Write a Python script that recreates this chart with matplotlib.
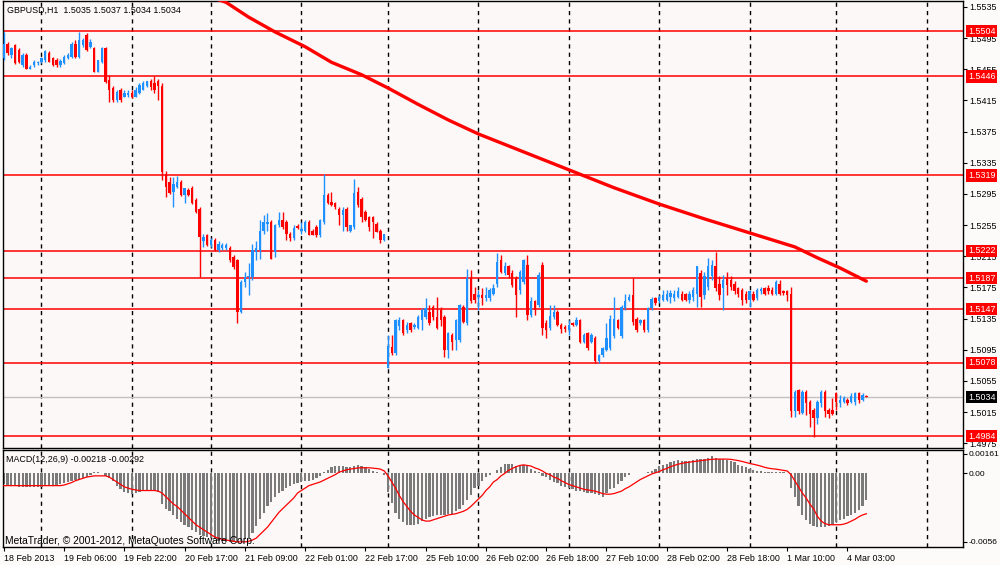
import numpy as np
import matplotlib
matplotlib.use("Agg")
import matplotlib.pyplot as plt
import matplotlib.transforms as mtransforms

plt.rcParams['font.family'] = ['Liberation Sans', 'DejaVu Sans']

# GBPUSD H1 candles, prices in 0.0001 above 1.0000 (5469 -> 1.5469)
opens = [5469, 5488, 5473, 5486, 5480, 5461, 5473, 5456, 5461, 5463,
         5465, 5467, 5476, 5469, 5467, 5461, 5463, 5469, 5471, 5488,
         5471, 5486, 5499, 5484, 5482, 5452, 5464, 5482, 5441, 5431,
         5416, 5428, 5420, 5422, 5425, 5420, 5424, 5428, 5433, 5440,
         5437, 5440, 5433, 5321, 5310, 5298, 5304, 5310, 5293, 5300,
         5302, 5287, 5276, 5234, 5242, 5229, 5236, 5223, 5225, 5225,
         5225, 5214, 5210, 5144, 5182, 5188, 5188, 5221, 5223, 5248,
         5257, 5259, 5221, 5255, 5261, 5259, 5244, 5238, 5254, 5248,
         5248, 5259, 5248, 5253, 5242, 5259, 5293, 5285, 5283, 5276,
         5268, 5276, 5248, 5253, 5298, 5289, 5272, 5265, 5265, 5257,
         5248, 5236, 5072, 5098, 5091, 5125, 5133, 5120, 5129, 5124,
         5123, 5133, 5137, 5144, 5150, 5137, 5146, 5137, 5095, 5114,
         5108, 5108, 5150, 5129, 5187, 5167, 5163, 5165, 5161, 5161,
         5167, 5180, 5210, 5193, 5202, 5193, 5187, 5172, 5182, 5204,
         5140, 5157, 5152, 5204, 5129, 5123, 5137, 5144, 5127, 5124,
         5120, 5129, 5127, 5133, 5105, 5116, 5105, 5110, 5080, 5088,
         5095, 5097, 5112, 5133, 5112, 5148, 5159, 5165, 5135, 5129,
         5133, 5120, 5148, 5161, 5158, 5159, 5159, 5163, 5161, 5163,
         5167, 5166, 5159, 5163, 5167, 5193, 5165, 5176, 5189, 5202,
         5180, 5174, 5187, 5185, 5180, 5174, 5172, 5167, 5159, 5167,
         5161, 5170, 5174, 5174, 5172, 5167, 5180, 5170, 5170, 5167,
         5016, 5043, 5014, 5041, 5028, 5018, 5007, 5026, 5041, 5018,
         5018, 5039, 5026, 5028, 5030, 5028, 5028, 5039, 5031, 5035]
highs = [5503, 5490, 5484, 5488, 5482, 5476, 5476, 5461, 5467, 5466,
         5471, 5480, 5478, 5471, 5469, 5468, 5473, 5476, 5490, 5493,
         5503, 5495, 5501, 5494, 5484, 5467, 5484, 5484, 5448, 5433,
         5429, 5431, 5428, 5429, 5428, 5432, 5437, 5440, 5440, 5442,
         5446, 5442, 5437, 5324, 5317, 5317, 5318, 5313, 5296, 5303,
         5305, 5290, 5278, 5244, 5244, 5238, 5238, 5235, 5232, 5232,
         5228, 5216, 5212, 5184, 5195, 5206, 5231, 5234, 5261, 5268,
         5270, 5262, 5257, 5272, 5272, 5261, 5246, 5255, 5256, 5259,
         5262, 5261, 5250, 5255, 5263, 5320, 5296, 5298, 5285, 5278,
         5278, 5278, 5255, 5314, 5304, 5291, 5274, 5267, 5267, 5259,
         5250, 5244, 5114, 5114, 5135, 5137, 5135, 5131, 5131, 5129,
         5140, 5148, 5161, 5153, 5153, 5163, 5150, 5140, 5118, 5116,
         5135, 5154, 5152, 5199, 5197, 5176, 5172, 5174, 5176, 5174,
         5180, 5219, 5217, 5208, 5204, 5197, 5189, 5197, 5212, 5217,
         5163, 5159, 5195, 5208, 5133, 5152, 5152, 5146, 5129, 5127,
         5133, 5131, 5137, 5135, 5116, 5118, 5116, 5112, 5090, 5099,
         5129, 5140, 5163, 5135, 5152, 5167, 5167, 5187, 5137, 5135,
         5135, 5150, 5163, 5163, 5165, 5172, 5172, 5172, 5172, 5176,
         5170, 5168, 5170, 5176, 5202, 5197, 5195, 5213, 5210, 5221,
         5189, 5191, 5195, 5189, 5183, 5176, 5174, 5170, 5172, 5170,
         5174, 5176, 5176, 5178, 5176, 5185, 5185, 5172, 5172, 5176,
         5043, 5045, 5043, 5043, 5030, 5020, 5030, 5043, 5043, 5020,
         5033, 5041, 5037, 5035, 5033, 5039, 5041, 5041, 5039, 5037]
lows = [5467, 5473, 5470, 5462, 5463, 5458, 5455, 5455, 5458, 5461,
        5463, 5465, 5464, 5459, 5458, 5458, 5462, 5468, 5470, 5470,
        5470, 5484, 5478, 5482, 5452, 5451, 5463, 5438, 5413, 5413,
        5413, 5413, 5419, 5420, 5418, 5419, 5423, 5428, 5432, 5429,
        5424, 5416, 5313, 5291, 5295, 5278, 5302, 5292, 5283, 5292,
        5282, 5270, 5188, 5227, 5228, 5227, 5222, 5221, 5223, 5223,
        5208, 5199, 5129, 5142, 5176, 5165, 5184, 5210, 5212, 5244,
        5248, 5212, 5214, 5252, 5250, 5236, 5234, 5236, 5250, 5244,
        5246, 5242, 5242, 5240, 5240, 5257, 5282, 5280, 5276, 5255,
        5248, 5248, 5246, 5250, 5278, 5259, 5260, 5248, 5238, 5246,
        5232, 5234, 5071, 5088, 5088, 5120, 5114, 5116, 5118, 5122,
        5121, 5120, 5135, 5127, 5133, 5121, 5125, 5086, 5084, 5095,
        5095, 5105, 5129, 5127, 5155, 5155, 5146, 5152, 5157, 5157,
        5165, 5176, 5193, 5191, 5187, 5176, 5137, 5167, 5180, 5133,
        5137, 5140, 5150, 5114, 5110, 5120, 5135, 5125, 5116, 5118,
        5114, 5125, 5125, 5103, 5103, 5095, 5103, 5078, 5078, 5086,
        5093, 5095, 5110, 5121, 5110, 5146, 5157, 5127, 5118, 5127,
        5118, 5118, 5146, 5153, 5155, 5157, 5157, 5155, 5157, 5161,
        5157, 5157, 5155, 5157, 5150, 5150, 5160, 5172, 5185, 5170,
        5159, 5146, 5165, 5172, 5167, 5163, 5153, 5155, 5150, 5157,
        5159, 5167, 5165, 5167, 5165, 5165, 5165, 5165, 5157, 5009,
        5009, 5013, 5013, 5011, 4996, 4983, 5000, 5022, 5009, 5007,
        5011, 5018, 5022, 5026, 5024, 5026, 5024, 5026, 5029, 5034]
closes = [5488, 5476, 5482, 5463, 5465, 5473, 5456, 5458, 5465, 5465,
          5469, 5478, 5465, 5461, 5461, 5466, 5471, 5473, 5488, 5471,
          5493, 5493, 5480, 5490, 5452, 5467, 5482, 5439, 5428, 5416,
          5426, 5416, 5425, 5425, 5420, 5429, 5435, 5438, 5440, 5432,
          5428, 5433, 5323, 5304, 5296, 5308, 5310, 5293, 5302, 5293,
          5283, 5272, 5240, 5240, 5229, 5236, 5223, 5231, 5229, 5229,
          5210, 5201, 5144, 5182, 5188, 5190, 5223, 5225, 5248, 5259,
          5259, 5212, 5255, 5261, 5253, 5244, 5238, 5251, 5251, 5250,
          5259, 5242, 5242, 5242, 5261, 5293, 5283, 5281, 5278, 5268,
          5274, 5253, 5255, 5296, 5281, 5266, 5261, 5253, 5259, 5246,
          5236, 5244, 5100, 5091, 5133, 5133, 5116, 5127, 5120, 5127,
          5137, 5146, 5148, 5129, 5137, 5123, 5133, 5095, 5116, 5105,
          5133, 5152, 5131, 5187, 5157, 5159, 5165, 5162, 5165, 5172,
          5174, 5208, 5195, 5202, 5191, 5178, 5165, 5195, 5210, 5140,
          5157, 5146, 5191, 5123, 5120, 5138, 5144, 5127, 5121, 5121,
          5127, 5127, 5133, 5105, 5114, 5097, 5114, 5080, 5088, 5097,
          5110, 5135, 5134, 5123, 5150, 5157, 5163, 5131, 5120, 5133,
          5120, 5148, 5160, 5155, 5163, 5165, 5167, 5168, 5167, 5170,
          5159, 5159, 5167, 5172, 5202, 5163, 5189, 5202, 5204, 5174,
          5165, 5185, 5178, 5176, 5170, 5167, 5159, 5159, 5170, 5159,
          5172, 5173, 5167, 5170, 5167, 5182, 5167, 5168, 5165, 5016,
          5041, 5016, 5041, 5026, 5013, 5007, 5028, 5041, 5016, 5013,
          5013, 5028, 5030, 5033, 5026, 5035, 5039, 5031, 5037, 5034]

# horizontal levels drawn on the chart
levels = [1.5504, 1.5446, 1.5319, 1.5222, 1.5187, 1.5147, 1.5078, 1.4984]
bid = 1.5034

# moving average (thick red line), vertices read at these bars
ma_bars = [56, 59, 65, 72, 80, 87, 95, 102, 110, 118, 126, 138, 150, 162,
           174, 186, 198, 204, 210, 216, 222, 229]
ma_vals = [1.5546, 1.5541, 1.5522, 1.5503, 1.5484, 1.5464, 1.5448, 1.5431,
           1.5410, 1.5390, 1.5372, 1.5349, 1.5326, 1.5303, 1.5282, 1.5263,
           1.5245, 1.5236, 1.5227, 1.5213, 1.5200, 1.5183]

# MACD(12,26,9) in 0.0001 units
macd_hist = [-9, -10, -10, -10, -11, -11, -11, -11, -11, -11,
             -11, -10, -10, -10, -10, -9, -8, -7, -6, -5,
             -5, -4, -3, -1, 1, 1, 0.5, -2, -4, -6,
             -10, -13, -15, -16, -17, -16, -15, -14, -14, -14,
             -14, -15, -25, -29, -31, -34, -37, -40, -42, -44,
             -46, -48, -50, -51, -52, -53, -54, -55, -55, -56,
             -56, -56, -55, -55, -54, -53, -49, -43, -37, -32,
             -27, -23, -19, -16, -14, -12, -10, -9, -8, -7,
             -6, -6, -5, -4, -2, 1, 3, 5, 6, 6,
             6, 5, 5, 6, 7, 6, 5, 4, 2, 1,
             0.5, -1, -15, -24, -32, -37, -40, -42, -42, -42,
             -41, -39, -37, -36, -35, -34, -34, -34, -33, -33,
             -31, -29, -26, -22, -18, -12, -10, -6, -3, -1,
             0.5, 3, 5, 8, 8, 8, 6, 6, 7, 6,
             4, 2, 1, -2, -3, -5, -7, -8, -10, -11,
             -12, -13, -14, -14, -15, -16, -16, -17, -18, -19,
             -16, -13, -12, -9, -6, -3, -1, 0.5, 0.5, 0.5,
             0.5, 1, 2, 4, 6, 7, 8, 9, 10, 11,
             10, 10, 10, 11, 12, 12, 12, 13, 14, 13,
             12, 12, 11, 10, 9, 7, 6, 5, 4, 3,
             2, 2, 1.5, 1.5, 1.5, 1.5, 1.5, 1, 0.5, -12,
             -19, -27, -34, -38, -41, -43, -44, -44, -44, -43,
             -42, -40, -38, -37, -35, -34, -32, -30, -27, -22]
macd_signal = [-10, -10, -10, -10, -10, -10, -10, -10, -10, -10,
               -10, -10, -10, -10, -10, -10, -9.5, -8.5, -7.5, -6,
               -5, -4, -3, -2.5, -2, -2, -2, -2, -3, -5,
               -7, -9, -11, -12, -13, -13.5, -14, -14, -14, -14,
               -14, -14.5, -16, -19, -22, -25, -27, -30, -33, -36,
               -39, -42, -44, -46, -48, -50, -52, -53, -54, -54.5,
               -55, -55.5, -56, -56, -56, -55.5, -54.5, -53, -50, -47,
               -44, -40, -36, -32, -29, -26, -23, -20, -16, -14,
               -12, -10, -9, -8, -7, -5.5, -4, -2.5, -1, 1,
               2, 3, 3.5, 4, 4.5, 4.6, 4.6, 4.6, 4.3, 4,
               3.5, 2, -2, -7, -12, -18, -23, -27, -31, -34,
               -36, -38, -39, -39, -38, -37, -36, -35, -34, -33.5,
               -33, -32, -31, -29.5, -27, -24, -21, -18, -14, -11,
               -7, -5, -2, 0, 2.5, 4, 5.5, 6.5, 7, 6.5,
               6, 4.5, 3.5, 2, 0, -1, -3, -4, -6, -7.5,
               -9, -10, -11, -12, -13, -13.5, -14, -14.5, -15.5, -16.5,
               -17, -17, -16.5, -15.5, -14.5, -12.5, -11, -9, -7, -5,
               -3.5, -2, -0.5, 0.5, 1.5, 3, 4, 5.5, 6.5, 7.5,
               8.2, 8.8, 9.2, 9.6, 10, 10.4, 10.8, 11.2, 11.5, 11.7,
               11.7, 11.7, 11.7, 11.5, 11, 10.5, 9.8, 9, 8.2, 7.5,
               6.8, 6, 5, 4.3, 3.8, 3.5, 3, 2.5, 2, -1,
               -6, -11, -16, -20, -25, -29, -35, -39, -41, -42,
               -42, -42, -42, -41.5, -40.5, -39, -37.5, -35.5, -34, -33]

# bars where a new day starts (dashed separators), and time axis labels
day_starts = [10, 34, 55, 79, 102, 126, 150, 174, 198, 221, 245]
label_bars = [0, 16, 32, 48, 64, 80, 96, 112, 128, 144, 160, 176, 192, 208, 224]
label_text = ["18 Feb 2013", "19 Feb 06:00", "19 Feb 22:00", "20 Feb 17:00",
              "21 Feb 09:00", "22 Feb 01:00", "22 Feb 17:00", "25 Feb 10:00",
              "26 Feb 02:00", "26 Feb 18:00", "27 Feb 10:00", "28 Feb 02:00",
              "28 Feb 18:00", "1 Mar 10:00", "4 Mar 03:00"]
price_ticks = [1.5535, 1.5495, 1.5455, 1.5415, 1.5375, 1.5335, 1.5295, 1.5255,
               1.5215, 1.5175, 1.5135, 1.5095, 1.5055, 1.5015, 1.4975]
macd_ticks = [0.00161, 0.0, -0.0056]
macd_tick_text = ["0.00161", "0.00", "-0.0056"]

title = "GBPUSD,H1  1.5035 1.5037 1.5034 1.5034"
macd_title = "MACD(12,26,9) -0.00218 -0.00292"
copyright_text = "MetaTrader, \u00a9 2001-2012, MetaQuotes Software Corp."

o = 1 + np.array(opens) / 10000
h = 1 + np.array(highs) / 10000
l = 1 + np.array(lows) / 10000
c = 1 + np.array(closes) / 10000
x = np.arange(len(o))
cols = np.where(c >= o, '#1E90FF', '#FF0000')

FS = 6.4
BG = '#FCF8F7'
fig = plt.figure(figsize=(10, 5.65), dpi=100, facecolor='#FDFBFA')
ax = fig.add_axes([0.0025, 1 - 448 / 565, 0.961, 447 / 565], facecolor=BG)
ax2 = fig.add_axes([0.0025, 1 - 547 / 565, 0.961, 97 / 565], facecolor=BG)

for d in day_starts:
    ax.axvline(d, color='black', lw=1, ls=(0, (3, 3)), zorder=1)
    ax2.axvline(d, color='black', lw=1, ls=(0, (3, 3)), zorder=1)

for lv in levels:
    ax.axhline(lv, color='#FF0000', lw=1.1, zorder=2)
ax.axhline(bid, color='#C0C0C0', lw=1, zorder=2)

ax.vlines(x, l, h, colors=cols, lw=1, zorder=3)
ax.bar(x, np.maximum(np.abs(c - o), 0.00006), bottom=np.minimum(o, c),
       width=0.64, color=cols, linewidth=0, zorder=3)

ax.plot(ma_bars, ma_vals, color='#FF0000', lw=2.4, solid_capstyle='round', zorder=4)

ax.set_xlim(-0.35, 254.8)
ax.set_ylim(1.49688, 1.55427)
ax.set_xticks([])
ax.yaxis.tick_right()
ax.set_yticks(price_ticks)
ax.set_yticklabels([f'{v:.4f}' for v in price_ticks])
ax.tick_params(axis='y', direction='out', length=3, width=0.8, labelsize=FS,
               pad=1.5, colors='black')

trans = mtransforms.blended_transform_factory(ax.transAxes, ax.transData)
for lv in levels:
    ax.text(1.0045, lv, f'{lv:.4f}', transform=trans, color='white', fontsize=FS,
            ha='left', va='center', clip_on=False, zorder=6,
            bbox=dict(boxstyle='square,pad=0.2', fc='#FF0000', ec='none'))
ax.text(1.0045, bid, f'{bid:.4f}', transform=trans, color='white', fontsize=FS,
        ha='left', va='center', clip_on=False, zorder=6,
        bbox=dict(boxstyle='square,pad=0.2', fc='black', ec='none'))

hist = np.array(macd_hist) / 10000
sig = np.array(macd_signal) / 10000
ax2.bar(x, hist, width=0.6, color='#7A7A7A', linewidth=0, zorder=2)
ax2.plot(x, sig, color='#FF0000', lw=0.9, zorder=3)
ax2.set_xlim(-0.35, 254.8)
ax2.set_ylim(-0.00602, 0.001915)
ax2.yaxis.tick_right()
ax2.set_yticks(macd_ticks)
ax2.set_yticklabels(macd_tick_text)
ax2.tick_params(axis='y', direction='out', length=3, width=0.8, labelsize=6.1,
                pad=1, colors='black')
ax2.set_xticks(label_bars)
ax2.set_xticklabels(label_text, ha='left')
ax2.tick_params(axis='x', direction='out', length=3, width=0.8, labelsize=FS,
                pad=2, colors='black')

for a in (ax, ax2):
    for s in a.spines.values():
        s.set_color('black')
        s.set_linewidth(1)

fig.text(7 / 1000, 1 - 10 / 565, title, fontsize=FS, ha='left', va='center')
fig.text(6 / 1000, 1 - 460 / 565, macd_title, fontsize=FS, ha='left', va='center')
fig.text(5 / 1000, 1 - 541 / 565, copyright_text, fontsize=7.4, ha='left', va='center')

fig.savefig('out.png', dpi=100, facecolor=fig.get_facecolor())
